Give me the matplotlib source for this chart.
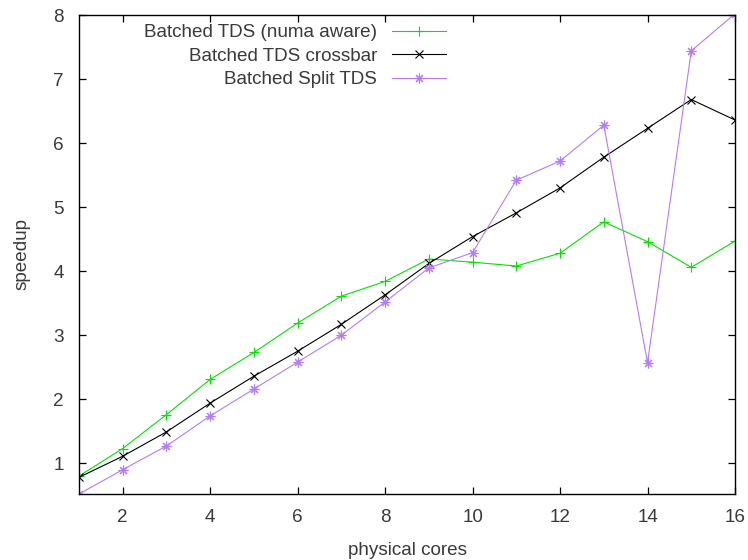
import matplotlib
matplotlib.use("Agg")
import matplotlib.pyplot as plt

# speedup per number of physical cores
cores = list(range(1, 17))
numa_aware = [0.80, 1.23, 1.76, 2.31, 2.73, 3.19, 3.61, 3.84, 4.19, 4.14, 4.08, 4.28, 4.77, 4.46, 4.06, 4.47]
crossbar = [0.78, 1.11, 1.49, 1.94, 2.36, 2.75, 3.17, 3.63, 4.12, 4.54, 4.91, 5.30, 5.78, 6.23, 6.68, 6.36]
split_tds = [0.52, 0.90, 1.27, 1.74, 2.16, 2.58, 3.00, 3.52, 4.05, 4.29, 5.42, 5.72, 6.28, 2.57, 7.44, 8.02]

labels = ["Batched TDS (numa aware)", "Batched TDS crossbar", "Batched Split TDS"]
xticks = list(range(2, 17, 2))
yticks = list(range(1, 9))

plt.rcParams['font.family'] = ['Liberation Sans', 'DejaVu Sans']
fs = 13.6
txt = '#3a3a3a'

fig = plt.figure(figsize=(7.48, 5.6), dpi=100)
ax = fig.add_axes([79/748, 1-494/560, (735-79)/748, (494-15)/560])

ax.plot(cores, numa_aware, color='#00e400', lw=0.8, marker='+', ms=7, mew=0.8, label=labels[0])
ax.plot(cores, crossbar, color='black', lw=0.8, marker='x', ms=6, mew=0.8, label=labels[1])
ax.plot(cores, split_tds, color='#b57bff', lw=0.8, marker=(8, 2, 0), ms=7, mew=0.8, label=labels[2])

ax.set_xlim(1, 16)
ax.set_ylim(0.52, 8.0)
ax.set_xticks(xticks)
ax.set_yticks(yticks)
ax.tick_params(direction='in', length=5, width=0.9, top=True, right=True,
               labelsize=fs, labelcolor=txt)
ax.tick_params(axis='y', pad=11)
ax.tick_params(axis='x', pad=11)
for s in ax.spines.values():
    s.set_linewidth(1.0)

ax.set_xlabel("physical cores", fontsize=fs, color=txt, labelpad=11)
ax.set_ylabel("speedup", fontsize=fs, color=txt, labelpad=16)

leg = ax.legend(loc='upper right', bbox_to_anchor=(446/748, 1-24/560),
                bbox_transform=fig.transFigure, frameon=False, markerfirst=False,
                fontsize=fs, handlelength=2.85, handletextpad=0.8,
                labelspacing=0.33, borderpad=0, borderaxespad=0)
for t in leg.get_texts():
    t.set_color(txt)

fig.savefig("out.png", dpi=100)
